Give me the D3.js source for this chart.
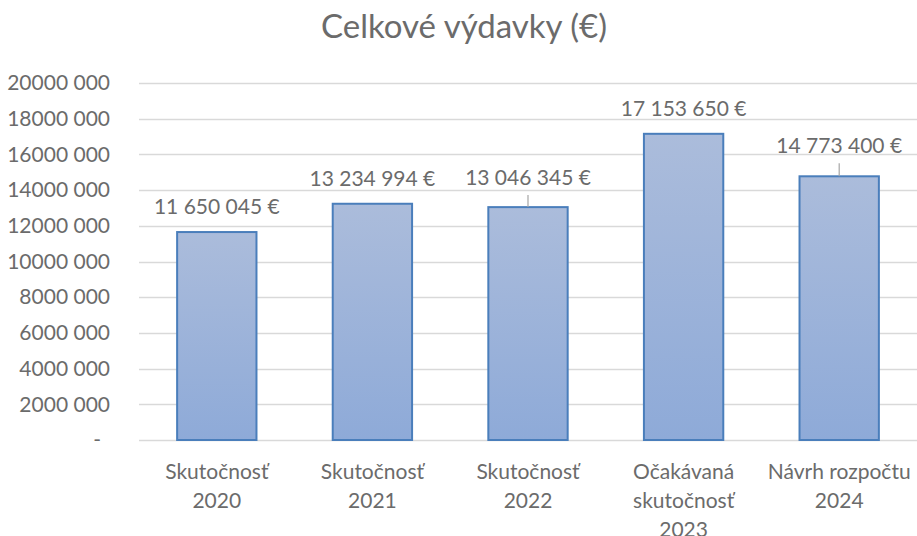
<!DOCTYPE html>
<html>
<head>
<meta charset="utf-8">
<script src="https://cdn.jsdelivr.net/npm/d3@7"></script>
<style>
  html, body { margin: 0; background: #fff; overflow: hidden; }
  svg { display: block; }
  svg text { font-family: Lato, "Open Sans", sans-serif; fill: #6b6b6b; }
</style>
</head>
<body>
<div id="chart"></div>
<script>
// Data
const categories = [
  ['Skutočnosť', '2020'],
  ['Skutočnosť', '2021'],
  ['Skutočnosť', '2022'],
  ['Očakávaná', 'skutočnosť', '2023'],
  ['Návrh rozpočtu', '2024']
];
const values = [11650045, 13234994, 13046345, 17153650, 14773400];
const yTicks = [0, 2000000, 4000000, 6000000, 8000000, 10000000, 12000000, 14000000, 16000000, 18000000, 20000000];
const title = 'Celkové výdavky (€)';

// Layout
const width = 917;
const height = 536;
const margin = { top: 83, right: 0, bottom: 96, left: 139 };
const innerWidth = width - margin.left - margin.right;
const innerHeight = height - margin.top - margin.bottom;
// extra lift for labels that were dragged up (with leader lines)
const labelLift = [0, 0, 4, 0, 5];

const svg = d3.select('#chart')
  .append('svg')
  .attr('width', width)
  .attr('height', height);

const defs = svg.append('defs');
const grad = defs.append('linearGradient')
  .attr('id', 'barGrad')
  .attr('x1', 0).attr('y1', 0).attr('x2', 0).attr('y2', 1);
grad.append('stop').attr('offset', '0%').attr('stop-color', '#abbcdb');
grad.append('stop').attr('offset', '100%').attr('stop-color', '#8eaad8');

const g = svg.append('g')
  .attr('transform', `translate(${margin.left},${margin.top})`);

// Scales
const x = d3.scaleBand()
  .domain(d3.range(values.length))
  .range([0, innerWidth])
  .paddingInner(0.49)
  .paddingOuter(0.245);

const y = d3.scaleLinear()
  .domain([0, 20000000])
  .range([innerHeight, 0]);

// Gridlines
g.selectAll('.grid')
  .data(yTicks)
  .enter()
  .append('line')
  .attr('class', 'grid')
  .attr('x1', 0)
  .attr('x2', innerWidth)
  .attr('y1', d => Math.round(y(d)) + 0.5)
  .attr('y2', d => Math.round(y(d)) + 0.5)
  .attr('stroke', '#d9d9d9')
  .attr('stroke-width', 1.5);

// Y axis labels
const yAxis = g.append('g')
  .call(d3.axisLeft(y)
    .tickValues(yTicks)
    .tickSize(0)
    .tickPadding(29)
    .tickFormat(d => d === 0 ? '-' : `${d / 1000} 000`));
yAxis.select('.domain').remove();
yAxis.selectAll('text')
  .attr('font-size', '21px')
  .style('font-family', 'Lato, sans-serif')
  .attr('fill', '#6b6b6b');
yAxis.selectAll('.tick')
  .filter(d => d === 0)
  .select('text')
  .attr('dx', -9);

// Bars
g.selectAll('.bar')
  .data(values)
  .enter()
  .append('rect')
  .attr('class', 'bar')
  .attr('x', (d, i) => x(i))
  .attr('y', d => y(d))
  .attr('width', x.bandwidth())
  .attr('height', d => innerHeight - y(d))
  .attr('fill', 'url(#barGrad)')
  .attr('stroke', '#4a7ebb')
  .attr('stroke-width', 2);

// Data labels
const fmt = d3.formatLocale({ decimal: ',', thousands: ' ', grouping: [3], currency: ['', ' €'] }).format('$,');

g.selectAll('.val')
  .data(values)
  .enter()
  .append('text')
  .attr('class', 'val')
  .attr('x', (d, i) => x(i) + x.bandwidth() / 2)
  .attr('y', (d, i) => y(d) - 18 - labelLift[i])
  .attr('text-anchor', 'middle')
  .attr('font-size', '21px')
  .text(d => fmt(d));

// Leader lines
g.selectAll('.leader')
  .data(values.map((v, i) => ({ v, i })).filter(d => labelLift[d.i] > 0))
  .enter()
  .append('line')
  .attr('class', 'leader')
  .attr('x1', d => x(d.i) + x.bandwidth() / 2)
  .attr('x2', d => x(d.i) + x.bandwidth() / 2)
  .attr('y1', d => y(d.v) - 18 - labelLift[d.i] + 10)
  .attr('y2', d => y(d.v))
  .attr('stroke', '#a6a6a6')
  .attr('stroke-width', 1.2);

// X axis labels
const xLabels = g.selectAll('.xlab')
  .data(categories)
  .enter()
  .append('text')
  .attr('class', 'xlab')
  .attr('text-anchor', 'middle')
  .attr('font-size', '21px')
  .attr('transform', (d, i) => `translate(${x(i) + x.bandwidth() / 2},${innerHeight + 39})`);

xLabels.selectAll('tspan')
  .data(d => d)
  .enter()
  .append('tspan')
  .attr('x', 0)
  .attr('y', (d, i) => i * 29)
  .text(d => d);

// Title
svg.append('text')
  .attr('x', 464)
  .attr('y', 38)
  .attr('text-anchor', 'middle')
  .attr('font-size', '33px')
  .text(title);
</script>
</body>
</html>
